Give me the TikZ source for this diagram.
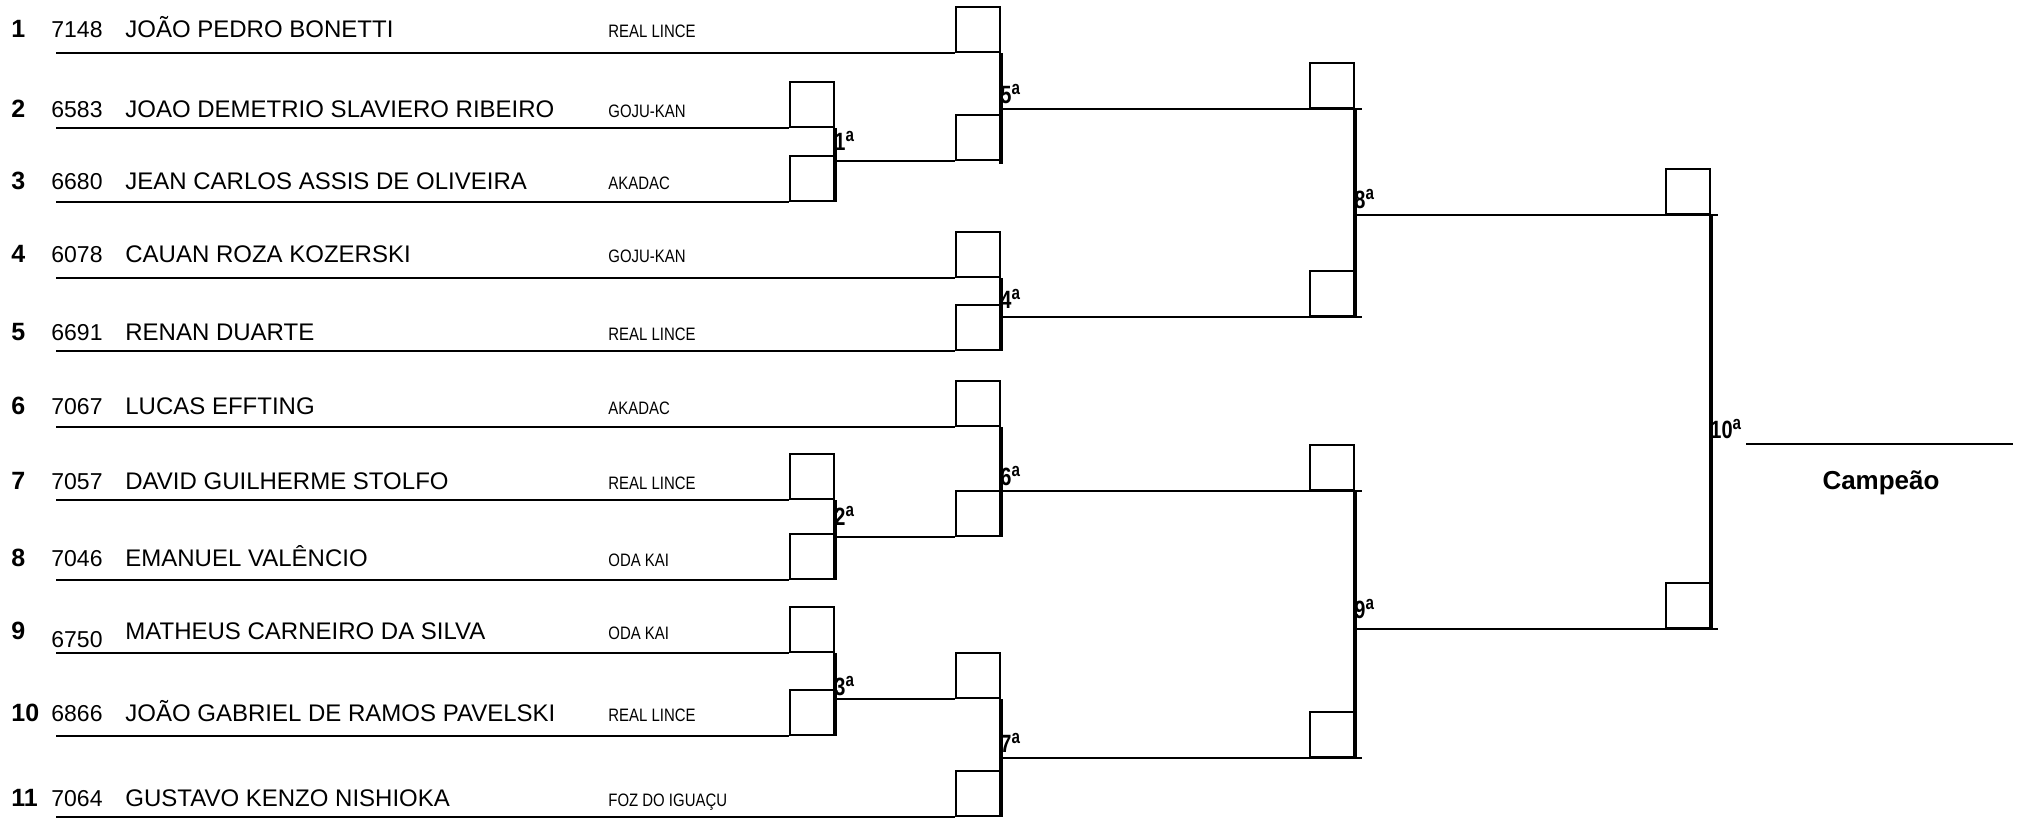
\documentclass[tikz,border=0pt]{standalone}
\usepackage{fontspec}
\setmainfont{Liberation Sans}
\newfontfamily\narrowfont[FakeStretch=0.83]{Liberation Sans}
\newfontfamily\roundfont[FakeStretch=0.8]{Liberation Sans Bold}
\usetikzlibrary{positioning}
\tikzstyle{wire} = [line width=1.3pt]
\tikzstyle{bracket} = [line width=2.2pt]
\newcommand{\ord}{\raisebox{4.2pt}{\fontsize{9.5}{10}\selectfont a}}

\begin{document}
\begin{tikzpicture}
        [
            x=0.5pt,y=-0.5pt,
            slot/.style={rectangle,draw=black,line width=1.2pt,minimum width=22pt,minimum height=22.5pt,inner sep=0pt,anchor=south east},
            seed/.style={anchor=base west,inner sep=0pt,font=\bfseries\fontsize{12.5}{13}\selectfont},
            num/.style={anchor=base west,inner sep=0pt,font=\fontsize{11.5}{12}\selectfont},
            who/.style={anchor=base west,inner sep=0pt,font=\fontsize{12}{13}\selectfont},
            club/.style={anchor=base west,inner sep=0pt,font=\narrowfont\fontsize{9}{10}\selectfont},
            rnd/.style={anchor=base west,inner sep=0pt,font=\roundfont\fontsize{12.5}{13}\selectfont},
        ]
    \useasboundingbox (0,0) rectangle (2017,819);

    % athletes: seed / number / name / club / baseline / number baseline / line / box column
    \foreach \i/\num/\who/\club/\yb/\yn/\yl/\xb in {
        1/7148/{JOÃO PEDRO BONETTI}/{REAL LINCE}/37/37/53/1001,
        2/6583/{JOAO DEMETRIO SLAVIERO RIBEIRO}/{GOJU-KAN}/117/117/128/835,
        3/6680/{JEAN CARLOS ASSIS DE OLIVEIRA}/{AKADAC}/189/189/202/835,
        4/6078/{CAUAN ROZA KOZERSKI}/{GOJU-KAN}/262/262/278/1001,
        5/6691/{RENAN DUARTE}/{REAL LINCE}/340/340/351/1001,
        6/7067/{LUCAS EFFTING}/{AKADAC}/414/414/427/1001,
        7/7057/{DAVID GUILHERME STOLFO}/{REAL LINCE}/489/489/500/835,
        8/7046/{EMANUEL VALÊNCIO}/{ODA KAI}/566/566/580/835,
        9/6750/{MATHEUS CARNEIRO DA SILVA}/{ODA KAI}/639/647/653/835,
        10/6866/{JOÃO GABRIEL DE RAMOS PAVELSKI}/{REAL LINCE}/721/721/736/835,
        11/7064/{GUSTAVO KENZO NISHIOKA}/{FOZ DO IGUAÇU}/806/806/817/1001}{
        \node[seed] (seed\i) at (11,\yb) {\i};
        \node[num] (num\i) at (51,\yn) {\num};
        \node[who] (name\i) at (125,\yb) {\who};
        \node[club] (club\i) at (608,\yb) {\club};
        \coordinate (s\i) at (56,\yl);
        \node[slot] (b\i) at (\xb,\yl) {};
        \draw[wire] (s\i) -- (b\i.south west);
    }

    % winner slots
    \node[slot] (m1) at (1001,161) {};
    \node[slot] (m2) at (1001,537) {};
    \node[slot] (m3) at (1001,699) {};
    \node[slot] (q1) at (1355,109) {};
    \node[slot] (q2) at (1355,317) {};
    \node[slot] (q3) at (1355,491) {};
    \node[slot] (q4) at (1355,758) {};
    \node[slot] (f1) at (1711,215) {};
    \node[slot] (f2) at (1711,629) {};

    % first round
    \draw[bracket] (b2.south east) -- (b3.south east);
    \draw[wire] (b2.south east |- m1.south) -- (m1.south west);
    \draw[bracket] (b7.south east) -- (b8.south east);
    \draw[wire] (b7.south east |- m2.south) -- (m2.south west);
    \draw[bracket] (b9.south east) -- (b10.south east);
    \draw[wire] (b9.south east |- m3.south) -- (m3.south west);

    % second round
    \draw[bracket] (b1.south east) -- ([yshift=-1.5pt]m1.south east);
    \draw[wire] (b1.south east |- q1.south) -- ([xshift=3.5pt]q1.south east);
    \draw[bracket] (b4.south east) -- (b5.south east);
    \draw[wire] (b4.south east |- q2.south) -- ([xshift=3.5pt]q2.south east);
    \draw[bracket] (b6.south east) -- (m2.south east);
    \draw[wire] (b6.south east |- q3.south) -- ([xshift=3.5pt]q3.south east);
    \draw[bracket] (m3.south east) -- (b11.south east);
    \draw[wire] (m3.south east |- q4.south) -- ([xshift=3.5pt]q4.south east);

    % semifinals and final
    \draw[bracket] (q1.south east) -- (q2.south east);
    \draw[wire] (q1.south east |- f1.south) -- ([xshift=3.5pt]f1.south east);
    \draw[bracket] (q3.south east) -- (q4.south east);
    \draw[wire] (q3.south east |- f2.south) -- ([xshift=3.5pt]f2.south east);
    \draw[bracket] (f1.south east) -- (f2.south east);

    % round labels
    \node[rnd] (r1) at (834,150) {1\ord};
    \node[rnd] (r2) at (834,525) {2\ord};
    \node[rnd] (r3) at (834,695) {3\ord};
    \node[rnd] (r4) at (1000,308) {4\ord};
    \node[rnd] (r5) at (1000,103) {5\ord};
    \node[rnd] (r6) at (1000,485) {6\ord};
    \node[rnd] (r7) at (1000,752) {7\ord};
    \node[rnd] (r8) at (1354,208) {8\ord};
    \node[rnd] (r9) at (1354,618) {9\ord};
    \node[rnd] (r10) at (1710,438) {10\ord};

    % champion
    \coordinate (c1) at (1746,444);
    \coordinate (c2) at (2013,444);
    \draw[wire] (c1) -- (c2);
    \node[anchor=base,inner sep=0pt,font=\bfseries\fontsize{13}{14}\selectfont] (champ) at (1881,489) {Campeão};
\end{tikzpicture}
\end{document}
